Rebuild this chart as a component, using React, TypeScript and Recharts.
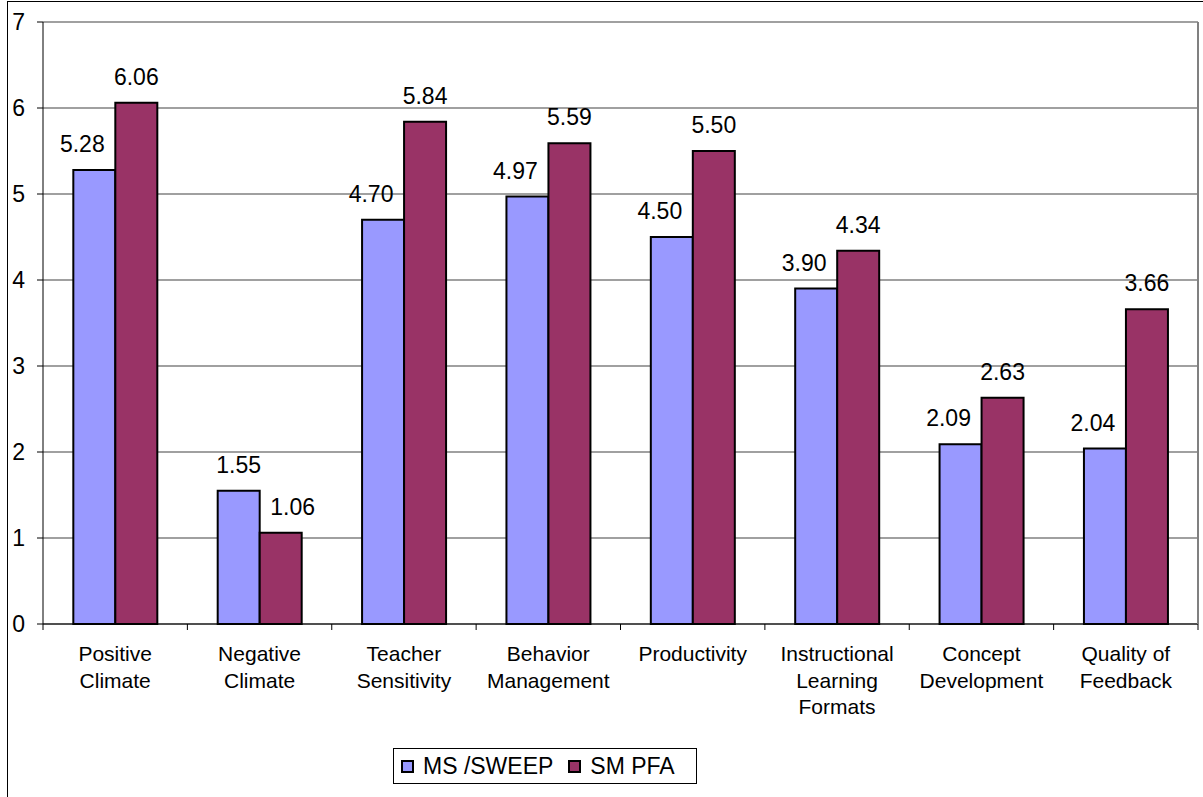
import React from "react";
import { BarChart, Bar, XAxis, YAxis, CartesianGrid, LabelList } from "recharts";

// categories (line breaks as in the original axis)
const categories = [
  "Positive\nClimate",
  "Negative\nClimate",
  "Teacher\nSensitivity",
  "Behavior\nManagement",
  "Productivity",
  "Instructional\nLearning\nFormats",
  "Concept\nDevelopment",
  "Quality of\nFeedback",
];
const msSweep = [5.28, 1.55, 4.7, 4.97, 4.5, 3.9, 2.09, 2.04];
const smPfa = [6.06, 1.06, 5.84, 5.59, 5.5, 4.34, 2.63, 3.66];
const yTicks = [0, 1, 2, 3, 4, 5, 6, 7];

const data = categories.map((c, i) => ({ name: c, ms: msSweep[i], pfa: smPfa[i] }));

const W = 1203;
const H = 797;
const MARGIN = { top: 22, right: 0, left: 0, bottom: 0 };
const Y_W = 43;
const PLOT_W = W - Y_W - 5;
const BAND = PLOT_W / categories.length;
const FONT = "'Liberation Sans', Arial, sans-serif";

const CategoryTick = (props: any) => {
  const { x, y, payload, index } = props;
  const axisY = y - 6;
  const lines = String(payload.value).split("\n");
  return (
    <g>
      <line x1={x - BAND / 2} x2={x - BAND / 2} y1={axisY} y2={axisY + 6} stroke="#000" />
      {index === categories.length - 1 && (
        <line x1={x + BAND / 2} x2={x + BAND / 2} y1={axisY} y2={axisY + 6} stroke="#000" />
      )}
      <text x={x} y={axisY} textAnchor="middle" fontSize={21} fill="#000" fontFamily={FONT}>
        {lines.map((l, i) => (
          <tspan key={i} x={x} dy={i === 0 ? 37 : 26.5}>
            {l}
          </tspan>
        ))}
      </text>
    </g>
  );
};

const ValueTick = (props: any) => {
  const { x, y, payload } = props;
  return (
    <text x={x} y={y + 8} textAnchor="end" fontSize={23} fill="#000" fontFamily={FONT}>
      {payload.value}
    </text>
  );
};

// value labels; like Excel, nudge a label sideways when the neighbouring bar is taller
const makeLabel = (own: number[], other: number[], dir: number) => (props: any) => {
  const { x, y, width, index } = props;
  const v = own[index];
  const shift = other[index] > v ? dir * 12 : 0;
  return (
    <text
      x={x + width / 2 + shift}
      y={y - 18}
      textAnchor="middle"
      fontSize={23}
      fill="#000"
      fontFamily={FONT}
    >
      {v.toFixed(2)}
    </text>
  );
};

export default function App() {
  return (
    <div style={{ position: "fixed", left: 0, top: 0, width: W, height: H, overflow: "hidden", background: "#fff", fontFamily: FONT }}>
      {/* outer chart border */}
      <div style={{ position: "absolute", left: 7, top: 1, width: W + 50, height: H + 50, border: "1px solid #000" }} />
      <div style={{ position: "absolute", left: 0, top: 0 }}>
        <BarChart
          width={W}
          height={H}
          data={data}
          margin={MARGIN}
          barCategoryGap="21%"
          barGap={0}
        >
          <CartesianGrid horizontal vertical={false} stroke="#808080" strokeWidth={1.5} />
          <XAxis
            dataKey="name"
            height={173}
            interval={0}
            tickSize={6}
            tickMargin={0}
            tickLine={false}
            axisLine={{ stroke: "#000" }}
            tick={<CategoryTick />}
          />
          <YAxis
            width={Y_W}
            domain={[0, 7]}
            ticks={yTicks}
            tickSize={6}
            tickMargin={12}
            axisLine={{ stroke: "#000" }}
            tickLine={{ stroke: "#000" }}
            tick={<ValueTick />}
          />
          <YAxis
            yAxisId="right"
            orientation="right"
            width={5}
            domain={[0, 7]}
            tick={false}
            tickLine={false}
            axisLine={{ stroke: "#808080", strokeWidth: 2 }}
          />
          <Bar dataKey="ms" name="MS /SWEEP" fill="#9999FF" stroke="#000" strokeWidth={2} isAnimationActive={false}>
            <LabelList dataKey="ms" content={makeLabel(msSweep, smPfa, -1)} />
          </Bar>
          <Bar dataKey="pfa" name="SM PFA" fill="#993366" stroke="#000" strokeWidth={2} isAnimationActive={false}>
            <LabelList dataKey="pfa" content={makeLabel(smPfa, msSweep, 1)} />
          </Bar>
        </BarChart>
      </div>
      {/* legend */}
      <div
        style={{
          position: "absolute",
          left: 393,
          top: 748,
          width: 302,
          height: 34,
          border: "1px solid #000",
          display: "flex",
          alignItems: "center",
          fontSize: 23,
          color: "#000",
          whiteSpace: "nowrap",
        }}
      >
        <span style={{ display: "inline-block", width: 9, height: 9, border: "2px solid #000", background: "#9999FF", marginLeft: 7, marginRight: 9 }} />
        <span>MS /SWEEP</span>
        <span style={{ display: "inline-block", width: 9, height: 9, border: "2px solid #000", background: "#993366", marginLeft: 15, marginRight: 9 }} />
        <span>SM PFA</span>
      </div>
    </div>
  );
}
